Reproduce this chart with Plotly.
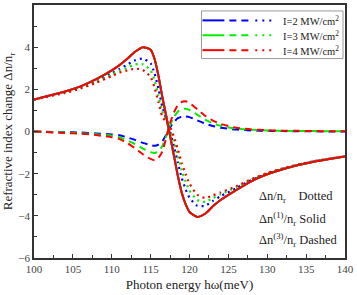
import plotly.graph_objects as go

# Photon energy (meV)
energy = [100, 104, 106, 108, 110, 111, 112, 113, 114, 115, 115.5, 116, 116.5, 117, 117.5,
          118, 118.5, 119, 119.5, 120, 121, 122, 123, 124, 126, 128, 130, 132, 134, 136, 138, 140]

# Linear term Δn(1)/nr (same for all intensities)
linear = [1.52, 1.90, 2.14, 2.48, 2.90, 3.15, 3.45, 3.78, 4.00, 3.88, 3.45, 2.65, 1.65, 0.75, -0.20,
          -1.15, -2.10, -2.90, -3.45, -3.82, -4.05, -3.90, -3.55, -3.25, -2.78, -2.35, -2.03, -1.79,
          -1.59, -1.43, -1.30, -1.18]

# Third-order term Δn(3)/nr
third_I2 = [0.0, -0.03, -0.05, -0.09, -0.14, -0.18, -0.28, -0.40, -0.54, -0.65, -0.68, -0.62, -0.47,
            -0.15, 0.20, 0.45, 0.63, 0.70, 0.71, 0.68, 0.53, 0.37, 0.26, 0.18, 0.09, 0.05, 0.03, 0.02,
            0.01, 0.01, 0.0, 0.0]
third_I3 = [0.0, -0.05, -0.08, -0.13, -0.20, -0.27, -0.42, -0.60, -0.81, -0.98, -1.02, -0.94, -0.70,
            -0.22, 0.30, 0.68, 0.95, 1.06, 1.08, 1.02, 0.80, 0.56, 0.39, 0.27, 0.14, 0.08, 0.05, 0.03,
            0.02, 0.02, 0.01, 0.01]
third_I4 = [0.0, -0.07, -0.10, -0.17, -0.27, -0.36, -0.55, -0.80, -1.08, -1.30, -1.36, -1.25, -0.95,
            -0.30, 0.40, 0.90, 1.25, 1.40, 1.43, 1.35, 1.05, 0.75, 0.52, 0.36, 0.18, 0.10, 0.06, 0.04,
            0.03, 0.02, 0.01, 0.01]

# Total Δn/nr
total_I2 = [1.52, 1.87, 2.09, 2.39, 2.76, 2.97, 3.17, 3.38, 3.46, 3.23, 2.77, 2.03, 1.18, 0.60, 0.0,
            -0.70, -1.47, -2.20, -2.74, -3.14, -3.52, -3.53, -3.29, -3.07, -2.69, -2.30, -2.00, -1.77,
            -1.58, -1.42, -1.30, -1.18]
total_I3 = [1.52, 1.85, 2.06, 2.35, 2.70, 2.88, 3.03, 3.18, 3.19, 2.90, 2.43, 1.71, 0.95, 0.53, 0.10,
            -0.47, -1.15, -1.84, -2.37, -2.80, -3.25, -3.34, -3.16, -2.98, -2.64, -2.27, -1.98, -1.76,
            -1.57, -1.41, -1.29, -1.17]
total_I4 = [1.52, 1.83, 2.04, 2.31, 2.63, 2.79, 2.90, 2.98, 2.92, 2.58, 2.09, 1.40, 0.70, 0.45, 0.20,
            -0.25, -0.85, -1.50, -2.02, -2.47, -3.00, -3.15, -3.03, -2.89, -2.60, -2.25, -1.97, -1.75,
            -1.56, -1.41, -1.29, -1.17]

labels = ["I=2 MW/cm<sup>2</sup>", "I=3 MW/cm<sup>2</sup>", "I=4 MW/cm<sup>2</sup>"]
colors = ["#0000ff", "#00ee00", "#ff0000"]
thirds = [third_I2, third_I3, third_I4]
totals = [total_I2, total_I3, total_I4]

FONT = "Liberation Serif, Times New Roman, serif"
DASH = "7px,5px"
DOT = "2px,4px"

fig = go.Figure()
for th, c in zip(thirds, colors):
    fig.add_trace(go.Scatter(x=energy, y=th, mode="lines", showlegend=False,
                             line=dict(color=c, width=2, dash=DASH, shape="spline", smoothing=0.6)))
for tt, c in zip(totals, colors):
    fig.add_trace(go.Scatter(x=energy, y=tt, mode="lines", showlegend=False,
                             line=dict(color=c, width=2.2, dash=DOT, shape="spline", smoothing=0.6)))
for c in colors:
    fig.add_trace(go.Scatter(x=energy, y=linear, mode="lines", showlegend=False,
                             line=dict(color=c, width=2, shape="spline", smoothing=0.6)))

# custom legend (paper coordinates)
L, R, T, B = 34, 346, 3, 258
def px(x):
    return (x - L) / (R - L)
def py(y):
    return (B - y) / (B - T)

shapes = [dict(type="rect", xref="paper", yref="paper", x0=px(202), x1=px(344), y0=py(57), y1=py(9),
               line=dict(color="#999999", width=1), fillcolor="white", layer="above")]
annots = []
for i, (lab, c) in enumerate(zip(labels, colors)):
    yy = 18.5 + i * 15
    shapes.append(dict(type="line", xref="paper", yref="paper", x0=px(203), x1=px(225), y0=py(yy), y1=py(yy),
                       line=dict(color=c, width=2), layer="above"))
    shapes.append(dict(type="line", xref="paper", yref="paper", x0=px(230), x1=px(252), y0=py(yy), y1=py(yy),
                       line=dict(color=c, width=2, dash=DASH), layer="above"))
    shapes.append(dict(type="line", xref="paper", yref="paper", x0=px(256), x1=px(274), y0=py(yy), y1=py(yy),
                       line=dict(color=c, width=2, dash="2px,5px"), layer="above"))
    annots.append(dict(xref="paper", yref="paper", x=px(282), y=py(yy), xanchor="left", yanchor="middle",
                       text=lab, showarrow=False, font=dict(family=FONT, size=10.5, color="#222")))

notes = ["Δn/n<sub>r</sub>    Dotted", "Δn<sup>(1)</sup>/n<sub>r</sub> Solid", "Δn<sup>(3)</sup>/n<sub>r</sub> Dashed"]
for i, t in enumerate(notes):
    annots.append(dict(xref="paper", yref="paper", x=px(258), y=py(197 + i * 21.5), xanchor="left",
                       yanchor="middle", text=t, showarrow=False, font=dict(family=FONT, size=12.5, color="#222")))

fig.update_layout(
    width=357, height=295,
    margin=dict(l=L, r=357 - R, t=T, b=295 - B),
    paper_bgcolor="white", plot_bgcolor="white",
    font=dict(family=FONT, size=11, color="#333"),
    shapes=shapes, annotations=annots,
    xaxis=dict(range=[100, 140], dtick=5, tick0=100, ticks="inside", ticklen=4, tickwidth=1.2,
               tickcolor="#333", showline=True, linecolor="#333", linewidth=1.6, mirror=True,
               showgrid=False, zeroline=False,
               minor=dict(dtick=2.5, ticks="inside", ticklen=3, tickcolor="#333", showgrid=False),
               tickfont=dict(family=FONT, size=11, color="#444"),
               title=dict(text="Photon energy hω(meV)", font=dict(family=FONT, size=13, color="#222"),
                          standoff=6)),
    yaxis=dict(range=[-6, 6], dtick=2, tick0=0, ticks="inside", ticklen=4, tickwidth=1.2,
               tickcolor="#333", showline=True, linecolor="#333", linewidth=1.6, mirror=True,
               showgrid=False, zeroline=False,
               minor=dict(dtick=1, ticks="inside", ticklen=3, tickcolor="#333", showgrid=False),
               tickfont=dict(family=FONT, size=11, color="#444"),
               title=dict(text="Refractive index change Δn/n<sub>r</sub>",
                          font=dict(family=FONT, size=13, color="#222"), standoff=4)),
)

fig.write_html("out.html", config={"displayModeBar": False},
               post_script="document.body.style.margin='0px';")
